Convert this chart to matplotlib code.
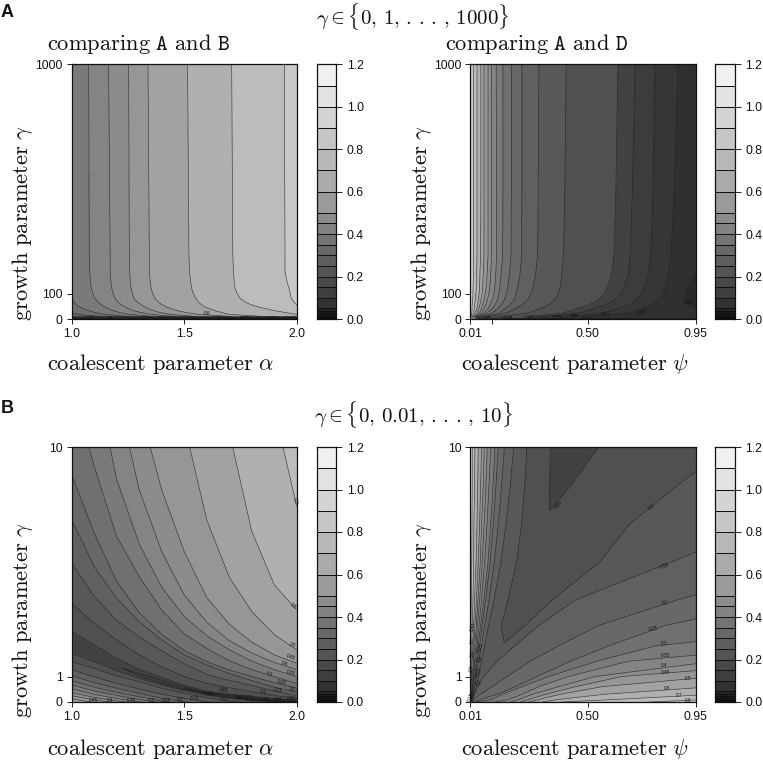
import numpy as np
import matplotlib
matplotlib.use("Agg")
import matplotlib.pyplot as plt
from matplotlib.colors import ListedColormap, BoundaryNorm

plt.rcParams['font.family'] = ['Liberation Sans', 'DejaVu Sans']
plt.rcParams['mathtext.fontset'] = 'cm'

W, H = 763, 762
EPS = 1e-6

# ---- contour levels and their grey fills ------------------------------------
LEVELS = [0, .01, .02, .03, .04, .05, .1, .15, .2, .25, .3, .35, .4, .45, .5,
          .6, .7, .8, .9, 1.0, 1.1, 1.2]
PANEL_GREYS = ['#2a2a2a', '#303030', '#363636', '#3c3c3c', '#424242', '#505050',
               '#585858', '#606060', '#686868', '#707070', '#7a7a7a', '#848484',
               '#8c8c8c', '#969696', '#a2a2a2', '#b0b0b0', '#bcbcbc', '#c8c8c8',
               '#d4d4d4', '#e2e2e2', '#f0f0f0']
SCALE_GREYS = ['#0a0a0a', '#121212', '#181818', '#1e1e1e', '#242424', '#323232',
               '#3e3e3e', '#484848', '#545454', '#5e5e5e', '#686868', '#747474',
               '#828282', '#8c8c8c', '#9a9a9a', '#aaaaaa', '#b8b8b8', '#c6c6c6',
               '#d4d4d4', '#e2e2e2', '#f0f0f0']

# ---- panel A, comparing A and B: alpha at which each level is reached ---------
AB_A_gamma = [1000, 251, 186, 150, 120, 100, 81, 67, 55, 45, 35, 26, 18, 10]
AB_A_levels = [.2, .25, .3, .35, .4, .45, .5, .6, .7, .8, .9]
AB_A_alpha = [
    [.5] * 14,
    [.8, .8, .8, .8, .8, .82, .85, .87, .9, .92, .95, .98, 1.03, 1.13],
    [.93, .95, .96, .965, .97, .98, .995, 1.008, 1.022, 1.04, 1.067, 1.10, 1.148, 1.25],
    [1.0755, 1.078, 1.08, 1.083, 1.087, 1.094, 1.103, 1.116, 1.133, 1.152, 1.178, 1.21, 1.252, 1.36],
    [1.164, 1.171, 1.171, 1.174, 1.178, 1.184, 1.193, 1.205, 1.222, 1.242, 1.267, 1.303, 1.356, 1.46],
    [1.253, 1.256, 1.258, 1.26, 1.264, 1.27, 1.277, 1.291, 1.311, 1.33, 1.356, 1.39, 1.444, 1.55],
    [1.339, 1.345, 1.345, 1.349, 1.353, 1.36, 1.37, 1.385, 1.403, 1.427, 1.459, 1.505, 1.563, 1.71],
    [1.515, 1.521, 1.524, 1.528, 1.533, 1.541, 1.551, 1.563, 1.578, 1.598, 1.63, 1.665, 1.70, 1.85],
    [1.711, 1.716, 1.719, 1.722, 1.726, 1.735, 1.748, 1.77, 1.80, 1.84, 1.889, 1.945, 2.0, 2.2],
    [1.945, 1.948, 1.948, 1.956, 1.966, 1.971, 1.976, 1.987, 2.0, 2.03, 2.1, 2.2, 2.3, 2.5],
    [3.0] * 14,
]
AB_A_low_gamma = [0, 1, 2, 4, 6, 10]
AB_A_low_alpha = [1.0, 1.25, 1.5, 1.75, 2.0]
AB_A_low_z = [
    [.50, .30, .10, .03, .01],
    [.20, .10, .05, .03, .02],
    [.10, .05, .04, .05, .10],
    [.05, .06, .10, .20, .30],
    [.10, .15, .30, .40, .50],
    [.20, .30, .50, .70, .95],
]
AB_A_labels = [(1.6, 22, '0.6', 0), (1.08, 3, '0.45', 0), (1.17, 3, '0.4', 0), (1.66, 3, '0.1', 0),
               (1.77, 3, '0.05', 0), (1.89, 3, '0.02', 0)]

# ---- panel A, comparing A and D: psi at which each level is reached ------------
AD_A_gamma = [1000, 500, 251, 173, 135, 107, 90, 75, 55, 42, 32, 22, 14, 8]
AD_A_levels = [.9, .8, .7, .6, .5, .45, .4, .35, .3, .25, .2, .15, .1, .05, .04, .03, .02, .01, .005]
AD_A_psi = [
    [-.1] * 14,
    [.024, .024, .024, .023, .022, .021, .021, .020, .018, .017, .017, .016, .015, .013],
    [.038, .038, .038, .036, .035, .034, .032, .031, .028, .027, .025, .023, .020, .016],
    [.054, .054, .053, .050, .049, .048, .045, .043, .041, .038, .034, .029, .024, .020],
    [.067, .067, .067, .064, .062, .060, .057, .054, .050, .046, .042, .038, .030, .023],
    [.084, .084, .084, .080, .077, .074, .070, .067, .061, .057, .052, .046, .036, .027],
    [.099, .099, .099, .095, .092, .089, .085, .081, .074, .068, .061, .054, .041, .029],
    [.118, .119, .120, .116, .113, .110, .106, .102, .092, .085, .075, .064, .047, .032],
    [.146, .146, .145, .138, .134, .130, .127, .123, .113, .103, .091, .078, .056, .038],
    [.182, .181, .180, .173, .168, .162, .157, .152, .138, .127, .113, .099, .070, .046],
    [.225, .225, .224, .217, .210, .203, .198, .192, .175, .157, .143, .127, .090, .057],
    [.296, .293, .291, .282, .274, .266, .258, .249, .224, .203, .180, .155, .110, .071],
    [.410, .404, .399, .391, .386, .380, .372, .363, .335, .305, .275, .245, .175, .113],
    [.626, .617, .609, .599, .586, .572, .558, .544, .502, .460, .425, .391, .305, .224],
    [.697, .686, .676, .669, .655, .641, .627, .613, .572, .530, .495, .460, .370, .280],
    [.781, .772, .763, .752, .742, .731, .718, .704, .669, .627, .593, .558, .455, .349],
    [.876, .861, .847, .836, .826, .815, .805, .794, .766, .731, .700, .669, .550, .433],
    [1.100, 1.07, 1.044, .950, .925, .912, .903, .898, .912, .961, 1.05, 1.169, 1.28, 1.378],
    [1.795] * 14,
]
AD_A_low_gamma = [0, 1, 2, 4, 8]
AD_A_low_psi = [.01, .05, .25, .5, .75, .95]
AD_A_low_z = [
    [.85, .35, .30, .10, .05, .05],
    [.85, .30, .10, .02, .02, .03],
    [.85, .25, .06, .015, .012, .013],
    [.85, .20, .05, .02, .012, .012],
    [.85, .14, .045, .017, .013, .012],
]
AD_A_labels = [(.924, 65, '0.01', 0), (.723, 25, '0.02', 0), (.573, 16, '0.03', 0), (.445, 12, '0.04', 0),
               (.372, 6, '0.05', 0), (.267, 5, '0.1', 0), (.17, 3, '0.15', 0), (.086, 3, '0.2', 0)]

# ---- panel B, comparing A and B: gamma at which each level is reached -----------
AB_B_alpha = [1.0, 1.1, 1.2, 1.3, 1.4, 1.5, 1.6, 1.7, 1.8, 1.9, 2.0]
AB_B_valley_z = [.046, .044, .041, .036, .033, .030, .027, .022, .015, .010, .006]
AB_B_levels = [.56, .5, .45, .4, .35, .3, .25, .2, .15, .1, .05, None, .05, .1, .15, .2, .25, .3,
               .35, .4, .45, .5, .6, .7, .8]
AB_B_gamma = [
    [-.3, -.3, -.4, -.5, -.6, -.8, -.9, -1.0, -1.1, -1.2, -1.3],
    [.12, -.02, -.1, -.25, -.4, -.55, -.7, -.8, -.9, -1, -1.1],
    [.25, .08, -.03, -.15, -.3, -.45, -.6, -.7, -.8, -.9, -1],
    [.37, .18, .04, -.05, -.2, -.35, -.5, -.6, -.7, -.8, -.9],
    [.51, .30, .14, .01, -.1, -.25, -.4, -.5, -.6, -.7, -.8],
    [.67, .43, .26, .10, -.03, -.15, -.3, -.4, -.5, -.6, -.7],
    [.84, .58, .38, .21, .04, -.08, -.2, -.3, -.4, -.5, -.6],
    [1.03, .76, .54, .34, .14, .01, -.1, -.2, -.3, -.4, -.5],
    [1.26, .99, .73, .51, .31, .14, .01, -.1, -.2, -.3, -.4],
    [1.58, 1.32, 1.02, .80, .54, .34, .17, .03, -.05, -.1, -.15],
    [1.91, 1.58, 1.23, .93, .67, .45, .27, .14, .05, .015, .005],
    [2.17, 1.78, 1.41, 1.06, .77, .54, .34, .24, .10, .03, .015],
    [2.76, 2.24, 1.71, 1.28, .97, .65, .42, .31, .22, .14, .08],
    [3.87, 3.09, 2.43, 1.85, 1.38, 1.0, .73, .56, .40, .26, .14],
    [5.45, 4.14, 3.2, 2.55, 2.0, 1.5, 1.08, .85, .65, .43, .25],
    [7.15, 5.31, 4.07, 3.15, 2.43, 1.85, 1.45, 1.12, .84, .58, .38],
    [8.91, 6.62, 4.73, 3.5, 2.65, 2.02, 1.58, 1.25, 1.0, .76, .54],
    [12.5, 9.24, 6.49, 4.92, 3.61, 2.67, 2.1, 1.62, 1.27, .99, .73],
    [18, 13, 8.72, 6.2, 4.5, 3.35, 2.6, 2.05, 1.6, 1.27, .99],
    [24, 17, 12.2, 8.32, 5.9, 4.2, 3.13, 2.41, 1.92, 1.55, 1.27],
    [32, 23, 16.5, 11.6, 8.32, 5.9, 4.1, 3.05, 2.35, 1.85, 1.52],
    [60, 44, 31, 22, 15.5, 10.9, 7.15, 4.9, 3.55, 2.65, 2.04],
    [120, 90, 65, 47, 33, 23, 16, 10.6, 6.7, 4.6, 3.61],
    [220, 170, 130, 100, 75, 54, 38, 27, 18, 11.5, 7.67],
    [600, 500, 400, 300, 240, 190, 150, 110, 90, 70, 50],
]
AB_B_labels = [(1.993, 7.87, '0.7', -80), (1.985, 3.77, '0.6', -40), (1.982, 2.24, '0.5', -25),
               (1.975, 1.75, '0.45', -20), (1.944, 1.49, '0.4', -20), (1.973, 1.13, '0.35', -15),
               (1.879, 1.09, '0.3', -15), (1.933, .76, '0.25', -10), (1.979, .51, '0.2', -10),
               (1.914, .47, '0.15', -8), (1.852, .41, '0.1', -8), (1.674, .45, '0.05', -8),
               (1.612, .30, '0.05', -8), (1.096, .04, '0.45', 0), (1.17, .04, '0.4', 0),
               (1.267, .04, '0.35', 0), (1.353, .04, '0.3', 0), (1.422, .04, '0.25', 0),
               (1.481, .10, '0.2', 0), (1.548, .14, '0.15', 0), (1.677, .10, '0.1', 0),
               (1.748, .17, '0.04', 0), (1.79, .17, '0.03', 0), (1.859, .10, '0.02', 0),
               (1.919, .10, '0.01', 0), (1.978, .13, '0.04', 0)]

# ---- panel B, comparing A and D: psi at which each level is reached --------------
AD_B_gamma = [10, 8.5, 7, 5.5, 4, 3, 2.2, 1.6, 1, .6, .3, .1, 0]
AD_B_valley_z = [.042, .047, .0515, .06, .085, .095, .101, .115, .125, .135, .14, .145, .148]
AD_B_levels = [.9, .8, .7, .6, .5, .45, .4, .35, .3, .25, .2, .15, .1, .05, None, .05, .1, .15, .2,
               .25, .3, .35, .4, .45, .5, .6, .7, .8, .9]
AD_B_psi = [
    [-.1] * 13,
    [.018, .018, .017, .016, .014, .013, .013, .012, .011, .011, .011, .010, .010],
    [.029, .028, .025, .024, .021, .018, .017, .016, .014, .013, .011, .011, .010],
    [.043, .041, .038, .034, .028, .024, .021, .018, .016, .014, .013, .011, .010],
    [.057, .053, .049, .043, .036, .029, .025, .023, .018, .017, .014, .011, .010],
    [.068, .064, .057, .052, .042, .035, .029, .024, .021, .018, .016, .013, .011],
    [.081, .075, .068, .060, .049, .039, .034, .028, .023, .020, .016, .013, .011],
    [.095, .088, .080, .070, .057, .046, .038, .031, .025, .021, .017, .013, .011],
    [.113, .105, .095, .084, .067, .053, .043, .036, .028, .024, .018, .014, .011],
    [.127, .117, .106, .093, .074, .059, .049, .039, .031, .027, .020, .014, .011],
    [.152, .141, .127, .110, .088, .070, .057, .045, .035, .029, .023, .016, .011],
    [.191, .177, .159, .138, .109, .086, .070, .056, .043, .035, .024, .017, .011],
    [.246, .237, .224, .203, .167, .139, .145, .107, .050, .036, .025, .018, .012],
    [.344, .341, .321, .252, .196, .162, .149, .113, .054, .037, .025, .018, .013],
    [.434, .378, .323, .253, .198, .163, .150, .114, .054, .038, .025, .018, .013],
    [.545, .431, .324, .255, .199, .164, .152, .116, .056, .039, .026, .019, .013],
    [1.080, .875, .677, .551, .351, .239, .152, .117, .059, .039, .026, .019, .013],
    [1.727, 1.449, 1.240, .851, .448, .295, .195, .121, .066, .042, .028, .020, .014],
    [2.283, 2.005, 1.727, 1.449, .872, .545, .378, .260, .163, .100, .052, .024, .016],
    [2.561, 2.283, 2.005, 1.727, 1.310, .823, .587, .427, .288, .198, .121, .052, .017],
    [2.978, 2.700, 2.422, 2.144, 1.866, 1.588, .781, .538, .337, .225, .142, .100, .031],
    [3.256, 2.978, 2.700, 2.422, 2.144, 1.727, 1.379, .670, .420, .295, .225, .170, .114],
    [3.534, 3.256, 2.978, 2.700, 2.422, 2.005, 1.588, 1.032, .531, .378, .267, .212, .177],
    [3.812, 3.534, 3.256, 2.978, 2.700, 2.283, 1.866, 1.449, .642, .448, .323, .253, .219],
    [4.090, 3.812, 3.534, 3.256, 2.978, 2.561, 2.144, 1.727, 1.032, .559, .385, .295, .253],
    [4.368, 4.090, 3.812, 3.534, 3.256, 2.839, 2.422, 2.005, 1.588, 1.018, .566, .378, .309],
    [4.646, 4.368, 4.090, 3.812, 3.534, 3.117, 2.700, 2.283, 1.866, 1.588, 1.018, .615, .392],
    [4.924, 4.646, 4.368, 4.090, 3.812, 3.395, 2.978, 2.561, 2.144, 1.866, 1.588, 1.004, .754],
    [6.0] * 13,
]
AD_B_labels = [(.378, 7.74, '0.05', 40), (.765, 7.67, '0.1', 38), (.823, 5.35, '0.15', 20),
               (.82, 3.87, '0.2', 8), (.775, 2.85, '0.25', 8), (.82, 2.28, '0.3', 0),
               (.823, 1.82, '0.35', 0), (.82, 1.43, '0.4', 0), (.826, 1.15, '0.45', 0),
               (.92, .94, '0.5', 0), (.83, .52, '0.6', 0), (.88, .25, '0.7', 0), (.92, .05, '0.8', 0),
               (.017, 1.32, '0.7', 82), (.02, 1.91, '0.6', 82), (.02, 2.43, '0.5', 82),
               (.02, 2.96, '0.45', 82), (.052, 2.17, '0.35', 75), (.052, 1.71, '0.3', 75),
               (.048, 1.19, '0.25', 70), (.048, .76, '0.2', 60), (.014, .21, '0.15', 70)]

# ---- axes text ----------------------------------------------------------------
ALPHA_TICKS = [1.0, 1.5, 2.0]
PSI_TICKS = [.01, .50, .95]
PSI_TICKS_MINOR = [.10]
GAMMA_TICKS_A = [0, 100, 1000]
GAMMA_TICKS_B = [0, 1, 10]
SCALE_TICKS = [0, .2, .4, .6, .8, 1.0, 1.2]

LINE = '#1e1e1e'


def rect(l, t, r, b):
    return [l / W, 1 - b / H, (r - l) / W, (b - t) / H]


def panel(box, xlim, ylim, xticks, yticks, xfmt, yfmt):
    ax = fig.add_axes(rect(*box))
    ax.set_xlim(*xlim)
    ax.set_ylim(*ylim)
    ax.set_xticks(xticks, [xfmt % v for v in xticks])
    ax.set_yticks(yticks, [yfmt % v for v in yticks])
    ax.tick_params(length=3.6, width=.7, pad=2.8, labelsize=8.8, color='#222222', labelcolor='#111111')
    for s in ax.spines.values():
        s.set_linewidth(.9)
        s.set_color('#111111')
        s.set_zorder(10)
    return ax


def filled(ax, X, Y, Z):
    ax.contourf(X, Y, Z, levels=LEVELS, colors=PANEL_GREYS)
    ax.contour(X, Y, Z, levels=LEVELS, colors=LINE, linewidths=.45, alpha=.85)


def labelled(ax, items):
    for x, y, s, rot in items:
        ax.text(x, y, s, fontsize=3.4, ha='center', va='center', rotation=rot, color='#111111',
                rotation_mode='anchor', zorder=6)


def x_level_mesh(rows, x_table, levels):
    X = np.array(x_table, float).T
    Y = np.repeat(np.array(rows, float)[:, None], X.shape[1], axis=1)
    Z = np.repeat((np.array(levels, float) + EPS)[None, :], X.shape[0], axis=0)
    return X, Y, Z


def scale(box):
    ax = fig.add_axes(rect(*box))
    cmap = ListedColormap(SCALE_GREYS)
    norm = BoundaryNorm(LEVELS, cmap.N)
    mids = (np.array(LEVELS[:-1]) + np.array(LEVELS[1:])) / 2
    ax.pcolormesh([0, 1], LEVELS, mids[:, None], cmap=cmap, norm=norm,
                  edgecolors='#111111', linewidth=.7)
    ax.set_xticks([])
    ax.set_ylim(0, 1.2)
    ax.set_xlim(0, 1)
    ax.yaxis.tick_right()
    ax.set_yticks(SCALE_TICKS, ['%.1f' % v for v in SCALE_TICKS])
    ax.tick_params(length=4, width=.7, pad=3.5, labelsize=8.8, color='#222222', labelcolor='#111111')
    for s in ax.spines.values():
        s.set_linewidth(.9)
        s.set_color('#111111')


def txt(x, y, s, size=16.2, **kw):
    fig.text(x / W, 1 - y / H, s, fontsize=size, color='#111111', **kw)


fig = plt.figure(figsize=(W / 100, H / 100), dpi=100)

# --- panel A left
ax = panel((71.7, 64.3, 296.7, 319), (1, 2), (0, 1000), ALPHA_TICKS, GAMMA_TICKS_A, '%.1f', '%d')
filled(ax, *x_level_mesh(AB_A_gamma, AB_A_alpha, AB_A_levels))
lowX, lowY = np.meshgrid(AB_A_low_alpha, AB_A_low_gamma)
filled(ax, lowX, lowY, np.array(AB_A_low_z))
labelled(ax, AB_A_labels)

# --- panel A right
ax = panel((470.3, 64.3, 695.7, 319), (.01, .95), (0, 1000), PSI_TICKS, GAMMA_TICKS_A, '%.2f', '%d')
ax.set_xticks(PSI_TICKS_MINOR, minor=True)
ax.tick_params(which='minor', length=3.6, width=.7, color='#222222')
filled(ax, *x_level_mesh(AD_A_gamma, AD_A_psi, AD_A_levels))
lowX, lowY = np.meshgrid(AD_A_low_psi, AD_A_low_gamma)
filled(ax, lowX, lowY, np.array(AD_A_low_z))
labelled(ax, AD_A_labels)

# --- panel B left
ax = panel((71.7, 447, 296.7, 702), (1, 2), (0, 10), ALPHA_TICKS, GAMMA_TICKS_B, '%.1f', '%d')
Yb = np.array(AB_B_gamma, float)
Xb = np.repeat(np.array(AB_B_alpha)[None, :], Yb.shape[0], axis=0)
Zb = np.array([[(np.nan if l is None else l + EPS)] * Yb.shape[1] for l in AB_B_levels], float)
Zb[AB_B_levels.index(None)] = AB_B_valley_z
filled(ax, Xb, Yb, Zb)
labelled(ax, AB_B_labels)

# --- panel B right
ax = panel((470.3, 447, 695.7, 702), (.01, .95), (0, 10), PSI_TICKS, GAMMA_TICKS_B, '%.2f', '%d')
Xd = np.array(AD_B_psi, float).T
Yd = np.repeat(np.array(AD_B_gamma, float)[:, None], Xd.shape[1], axis=1)
val = np.array(AD_B_valley_z)
Zd = np.column_stack([val if l is None else np.maximum(l + EPS, val) for l in AD_B_levels])
filled(ax, Xd, Yd, Zd)
labelled(ax, AD_B_labels)

# --- colour scales
for box in [(316.7, 64.3, 336.3, 319), (715.3, 64.3, 734.7, 319),
            (316.7, 447, 336.3, 702), (715.3, 447, 734.7, 702)]:
    scale(box)

# --- text
txt(1, 17, 'A', size=13, fontweight='bold', family='Liberation Sans')
txt(1, 413, 'B', size=13, fontweight='bold', family='Liberation Sans')
txt(413, 24, r'$\gamma \in \{0,\,1,\,.\,.\,.\,,\,1000\}$', size=15, ha='center')
txt(413, 422, r'$\gamma \in \{0,\,0.01,\,.\,.\,.\,,\,10\}$', size=15, ha='center')
txt(47, 50, r'$\mathrm{comparing}\ \mathtt{A}\ \mathrm{and}\ \mathtt{B}$')
txt(445, 50, r'$\mathrm{comparing}\ \mathtt{A}\ \mathrm{and}\ \mathtt{D}$')
for y in (370, 755):
    txt(47, y, r'$\mathrm{coalescent\ parameter}\ \alpha$')
    txt(461, y, r'$\mathrm{coalescent\ parameter}\ \psi$')
for x, y in ((35, 321), (434, 321), (35, 718), (434, 718)):
    txt(x, y, r'$\mathrm{growth\ parameter}\ \gamma$', rotation=90, ha='right', va='bottom')

fig.savefig('out.png', dpi=100)
